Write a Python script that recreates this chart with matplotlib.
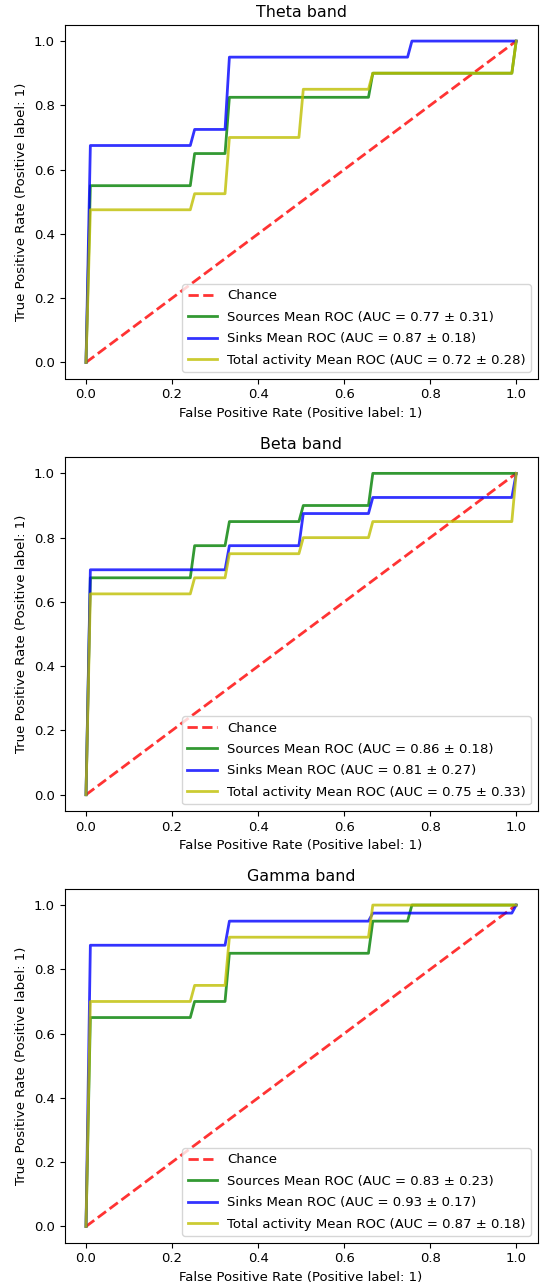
import matplotlib
matplotlib.use("Agg")
import matplotlib.pyplot as plt

# Band titles
bands = ["Theta band", "Beta band", "Gamma band"]

# Mean ROC vertices (fpr grid points where the curve bends)
theta_sources_fpr = [0, 0.0101, 0.2424, 0.2525, 0.3232, 0.3333, 0.6566, 0.6667, 0.9899, 1.0]
theta_sources_tpr = [0, 0.55, 0.55, 0.65, 0.65, 0.825, 0.825, 0.90, 0.90, 1.0]
theta_sinks_fpr = [0, 0.0101, 0.2424, 0.2525, 0.3232, 0.3333, 0.7475, 0.7576, 1.0]
theta_sinks_tpr = [0, 0.675, 0.675, 0.725, 0.725, 0.95, 0.95, 1.0, 1.0]
theta_total_fpr = [0, 0.0101, 0.2424, 0.2525, 0.3232, 0.3333, 0.4949, 0.5051, 0.6566, 0.6667, 0.9899, 1.0]
theta_total_tpr = [0, 0.475, 0.475, 0.525, 0.525, 0.70, 0.70, 0.85, 0.85, 0.90, 0.90, 1.0]

beta_sources_fpr = [0, 0.0101, 0.2424, 0.2525, 0.3232, 0.3333, 0.4949, 0.5051, 0.6566, 0.6667, 1.0]
beta_sources_tpr = [0, 0.675, 0.675, 0.775, 0.775, 0.85, 0.85, 0.90, 0.90, 1.0, 1.0]
beta_sinks_fpr = [0, 0.0101, 0.3232, 0.3333, 0.4949, 0.5051, 0.6566, 0.6667, 0.9899, 1.0]
beta_sinks_tpr = [0, 0.70, 0.70, 0.775, 0.775, 0.875, 0.875, 0.925, 0.925, 1.0]
beta_total_fpr = [0, 0.0101, 0.2424, 0.2525, 0.3232, 0.3333, 0.4949, 0.5051, 0.6566, 0.6667, 0.9899, 1.0]
beta_total_tpr = [0, 0.625, 0.625, 0.675, 0.675, 0.75, 0.75, 0.80, 0.80, 0.85, 0.85, 1.0]

gamma_sources_fpr = [0, 0.0101, 0.2424, 0.2525, 0.3232, 0.3333, 0.6566, 0.6667, 0.7475, 0.7576, 1.0]
gamma_sources_tpr = [0, 0.65, 0.65, 0.70, 0.70, 0.85, 0.85, 0.95, 0.95, 1.0, 1.0]
gamma_sinks_fpr = [0, 0.0101, 0.3232, 0.3333, 0.6566, 0.6667, 0.9899, 1.0]
gamma_sinks_tpr = [0, 0.875, 0.875, 0.95, 0.95, 0.975, 0.975, 1.0]
gamma_total_fpr = [0, 0.0101, 0.2424, 0.2525, 0.3232, 0.3333, 0.6566, 0.6667, 1.0]
gamma_total_tpr = [0, 0.70, 0.70, 0.75, 0.75, 0.90, 0.90, 1.0, 1.0]

auc_sources = [(0.77, 0.31), (0.86, 0.18), (0.83, 0.23)]
auc_sinks = [(0.87, 0.18), (0.81, 0.27), (0.93, 0.17)]
auc_total = [(0.72, 0.28), (0.75, 0.33), (0.87, 0.18)]

curves = [
    ((theta_sources_fpr, theta_sources_tpr), (theta_sinks_fpr, theta_sinks_tpr), (theta_total_fpr, theta_total_tpr)),
    ((beta_sources_fpr, beta_sources_tpr), (beta_sinks_fpr, beta_sinks_tpr), (beta_total_fpr, beta_total_tpr)),
    ((gamma_sources_fpr, gamma_sources_tpr), (gamma_sinks_fpr, gamma_sinks_tpr), (gamma_total_fpr, gamma_total_tpr)),
]

plt.rcParams["font.size"] = 9.5
plt.rcParams["axes.titlesize"] = 11.4

fig = plt.figure(figsize=(5.40, 12.86), dpi=100)
left, width, height = 64.5 / 540, (537.7 - 64.5) / 540, 353.5 / 1286
tops = [25, 457.3, 889]

for i in range(3):
    bottom = 1 - (tops[i] + 353.5) / 1286
    ax = fig.add_axes([left, bottom, width, height])
    ax.plot([0, 1], [0, 1], linestyle="--", lw=2, color="r", label="Chance", alpha=0.8)
    src, snk, tot = curves[i]
    ax.plot(src[0], src[1], color="g", lw=2, alpha=0.8,
            label="Sources Mean ROC (AUC = %0.2f \u00b1 %0.2f)" % auc_sources[i])
    ax.plot(snk[0], snk[1], color="b", lw=2, alpha=0.8,
            label="Sinks Mean ROC (AUC = %0.2f \u00b1 %0.2f)" % auc_sinks[i])
    ax.plot(tot[0], tot[1], color="y", lw=2, alpha=0.8,
            label="Total activity Mean ROC (AUC = %0.2f \u00b1 %0.2f)" % auc_total[i])
    ax.set_xlim(-0.05, 1.05)
    ax.set_ylim(-0.05, 1.05)
    ax.set_title(bands[i])
    ax.set_xlabel("False Positive Rate (Positive label: 1)")
    ax.set_ylabel("True Positive Rate (Positive label: 1)")
    ax.legend(loc="lower right", labelspacing=0.64, handlelength=2.2)

fig.savefig("out.png", dpi=100)
